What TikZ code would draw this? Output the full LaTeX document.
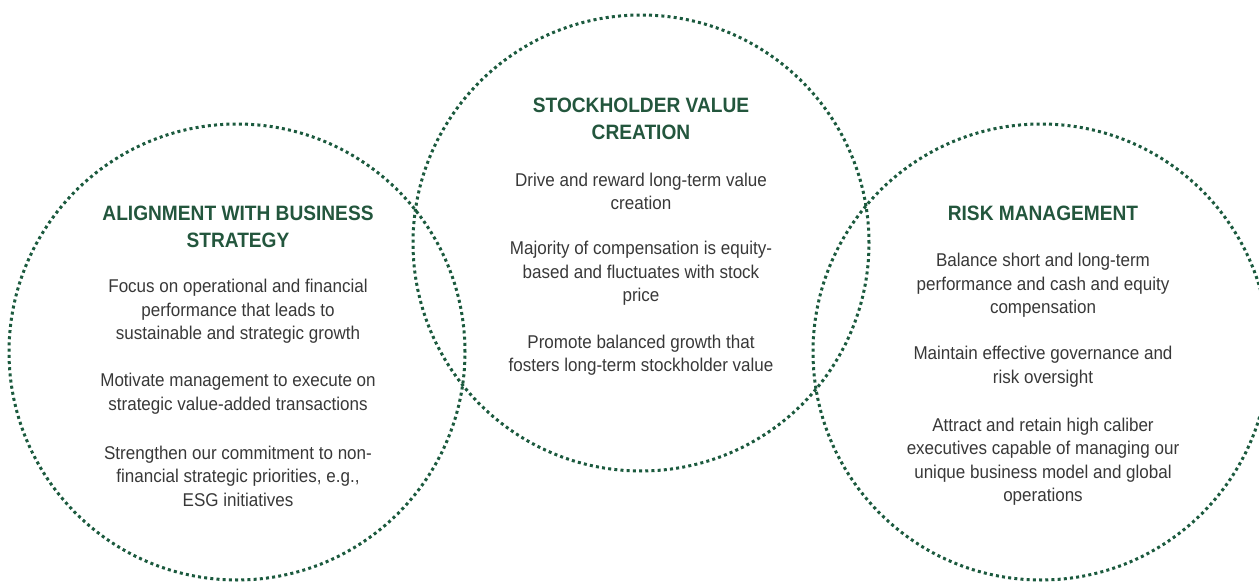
\documentclass[tikz,border=0pt]{standalone}
\usepackage{fontspec}
\setmainfont{Liberation Sans}[FakeStretch=0.92]
\definecolor{ringgreen}{HTML}{1B5A3E}
\definecolor{titlegreen}{HTML}{23563D}
\definecolor{bodygray}{HTML}{383838}
\begin{document}
\begin{tikzpicture}[x=1pt,y=-1pt,
  ring/.style={draw=ringgreen, line width=3pt, dash pattern=on 3pt off 3.2pt},
  ttl/.style={align=center, text=titlegreen, font=\fontsize{20.8}{27}\selectfont\bfseries, inner sep=0pt},
  para/.style={align=center, text=bodygray, font=\fontsize{18.5}{23.5}\selectfont, inner sep=0pt}]
\useasboundingbox (0,0) rectangle (1259,583);
% circles
\node[ring, circle, minimum size=456pt, inner sep=0pt] (cl) at (237,352) {};
\node[ring, circle, minimum size=456pt, inner sep=0pt] (cm) at (641,243) {};
\node[ring, circle, minimum size=456pt, inner sep=0pt] (cr) at (1041,352) {};
% left texts
\node[ttl] (lt) at (238,226.5) {ALIGNMENT WITH BUSINESS\\STRATEGY};
\node[para] (l1) at (238,311.5) {Focus on operational and financial\\performance that leads to\\sustainable and strategic growth};
\node[para] (l2) at (238,393.5) {Motivate management to execute on\\strategic value-added transactions};
\node[para] (l3) at (238,476) {Strengthen our commitment to non-\\financial strategic priorities, e.g.,\\ESG initiatives};
% middle texts
\node[ttl] (mt) at (641,118.5) {STOCKHOLDER VALUE\\CREATION};
\node[para] (m1) at (641,191.5) {Drive and reward long-term value\\creation};
\node[para] (m2) at (641,273.5) {Majority of compensation is equity-\\based and fluctuates with stock\\price};
\node[para] (m3) at (641,355) {Promote balanced growth that\\fosters long-term stockholder value};
% right texts
\node[ttl] (rt) at (1043,213) {RISK MANAGEMENT};
\node[para] (r1) at (1043,285.5) {Balance short and long-term\\performance and cash and equity\\compensation};
\node[para] (r2) at (1043,366.5) {Maintain effective governance and\\risk oversight};
\node[para] (r3) at (1043,461.5) {Attract and retain high caliber\\executives capable of managing our\\unique business model and global\\operations};
\end{tikzpicture}
\end{document}
